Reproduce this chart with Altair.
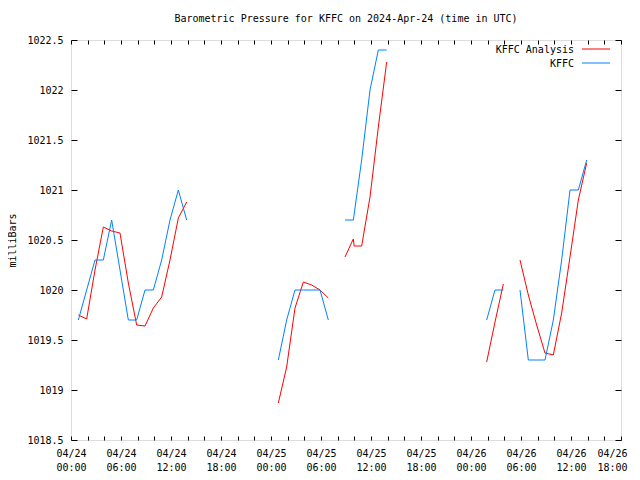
import altair as alt
import pandas as pd

# ---- data (hours after 2024-04-24 00:00 UTC) ----
series_names = ["KFFC Analysis", "KFFC"]
series_colors = ["#ff0000", "#0080ff"]

kffc_hours = [0.88, 1.88, 2.88, 3.88, 4.88, 5.88, 6.88, 7.88, 8.88, 9.88, 10.88, 11.88, 12.88, 13.88,
              24.88, 25.88, 26.88, 27.88, 28.88, 29.88, 30.88,
              32.88, 33.88, 34.88, 35.88, 36.88, 37.88,
              49.88, 50.88, 51.88,
              53.88, 54.88, 55.88, 56.88, 57.88, 58.88, 59.88, 60.88, 61.88]
kffc_mb = [1019.7, 1020.0, 1020.3, 1020.3, 1020.7, 1020.2, 1019.7, 1019.7, 1020.0, 1020.0, 1020.3, 1020.7, 1021.0, 1020.7,
           1019.3, 1019.7, 1020.0, 1020.0, 1020.0, 1020.0, 1019.7,
           1020.7, 1020.7, 1021.3, 1022.0, 1022.4, 1022.4,
           1019.7, 1020.0, 1020.0,
           1020.0, 1019.3, 1019.3, 1019.3, 1019.7, 1020.3, 1021.0, 1021.0, 1021.3]

analysis_hours = [0.88, 1.88, 2.88, 3.88, 4.88, 5.88, 6.88, 7.88, 8.88, 9.88, 10.88, 11.88, 12.88, 13.88,
                  24.88, 25.88, 26.88, 27.88, 28.88, 29.88, 30.88,
                  32.88, 33.88, 33.98, 34.88, 35.88, 36.88, 37.88,
                  49.88, 50.88, 51.88,
                  53.88, 54.88, 55.88, 56.88, 57.88, 58.88, 59.88, 60.88, 61.88]
analysis_mb = [1019.75, 1019.71, 1020.2, 1020.63, 1020.59, 1020.57, 1020.07, 1019.65, 1019.64, 1019.82, 1019.93, 1020.3, 1020.72, 1020.88,
               1018.87, 1019.23, 1019.82, 1020.08, 1020.05, 1020.0, 1019.92,
               1020.33, 1020.51, 1020.44, 1020.44, 1020.93, 1021.63, 1022.28,
               1019.28, 1019.68, 1020.06,
               1020.3, 1019.95, 1019.65, 1019.37, 1019.35, 1019.77, 1020.33, 1020.9, 1021.27]

y_ticks = [1018.5, 1019.0, 1019.5, 1020.0, 1020.5, 1021.0, 1021.5, 1022.0, 1022.5]
x_tick_step_hours = 2
x_span_hours = 66
title_text = "Barometric Pressure for KFFC on 2024-Apr-24 (time in UTC)"
y_title = "milliBars"

FONT = "DejaVu Sans Mono"
start = pd.Timestamp("2024-04-24T00:00:00Z")


def frame(hours, values, name):
    t = [start + pd.to_timedelta(h, unit="h") for h in hours]
    seg, s = [], 0
    for i, h in enumerate(hours):
        if i > 0 and h - hours[i - 1] > 1.5:
            s += 1
        seg.append(s)
    return pd.DataFrame({
        "time": [x.strftime("%Y-%m-%dT%H:%M:%SZ") for x in t],
        "mb": values,
        "seg": seg,
        "series": name,
    })


df_an = frame(analysis_hours, analysis_mb, series_names[0])
df_ob = frame(kffc_hours, kffc_mb, series_names[1])

x_vals = [int((start + pd.Timedelta(hours=h)).timestamp() * 1000)
          for h in range(0, x_span_hours + 1, x_tick_step_hours)]

x_scale = alt.Scale(type="utc",
                    domain=[alt.DateTime(year=2024, month=4, date=24, hours=0, utc=True),
                            alt.DateTime(year=2024, month=4, date=26, hours=18, utc=True)])
y_scale = alt.Scale(domain=[y_ticks[0], y_ticks[-1]], nice=False, zero=False)

label_expr = ("utchours(datum.value) % 6 == 0 ? [utcFormat(datum.value, '%m/%d'), "
              "utcFormat(datum.value, '%H:%M')] : ''")

x_bottom = alt.Axis(orient="bottom", values=x_vals, labelExpr=label_expr, tickSize=4, offset=-4,
                    domain=False, grid=False, labelFont=FONT, labelFontSize=10, labelPadding=8,
                    labelLineHeight=14, labelAngle=0, labelOverlap=False, labelFlush=False,
                    labelBound=False, labelColor="black", tickColor="black", title=None,
                    labelOffset={"condition": {"test": f"+datum.value >= {x_vals[-1] - 1000}", "value": -9},
                                 "value": 0})
x_top = alt.Axis(orient="top", values=x_vals, labels=False, tickSize=4, offset=-4, domain=False,
                 grid=False, tickColor="black", title=None)
y_left = alt.Axis(orient="left", values=y_ticks, labelExpr="datum.value + ''", tickSize=6, offset=-6,
                  domain=False, grid=False, labelFont=FONT, labelFontSize=10, labelPadding=8,
                  labelColor="black", tickColor="black", title=y_title, titleFont=FONT,
                  titleFontSize=10, titleFontWeight="normal", titleColor="black", titlePadding=9)
y_right = alt.Axis(orient="right", values=y_ticks, labels=False, tickSize=6, offset=-6, domain=False,
                   grid=False, tickColor="black", title=None)

red = alt.Chart(df_an).mark_line(color=series_colors[0], strokeWidth=1).encode(
    x=alt.X("time:T", scale=x_scale, axis=x_bottom),
    y=alt.Y("mb:Q", scale=y_scale, axis=y_left),
    detail="seg:N",
)
blue = alt.Chart(df_ob).mark_line(color=series_colors[1], strokeWidth=1).encode(
    x=alt.X("time:T", scale=x_scale, axis=x_top),
    y=alt.Y("mb:Q", scale=y_scale, axis=y_right),
    detail="seg:N",
)

leg_layers = []
for i, (name, col) in enumerate(zip(series_names, series_colors)):
    yy = 10 + 14 * i
    leg_layers.append(
        alt.Chart(pd.DataFrame({"label": [name]})).mark_text(
            font=FONT, fontSize=10, align="right", baseline="middle", color="black"
        ).encode(text="label:N", x=alt.value(503), y=alt.value(yy))
    )
    leg_layers.append(
        alt.Chart(pd.DataFrame({"label": [name]})).mark_rule(color=col, strokeWidth=1).encode(
            x=alt.value(511), x2=alt.value(539), y=alt.value(yy - 1)
        )
    )

chart = alt.layer(red, blue, *leg_layers).resolve_axis(
    x="independent", y="independent"
).properties(
    width=550, height=400,
    title=alt.TitleParams(title_text, font=FONT, fontSize=10, fontWeight="normal",
                          anchor="middle", offset=11, color="black"),
    padding={"left": 63, "top": 32, "right": 11, "bottom": 32},
    autosize=alt.AutoSizeParams(type="none"),
).configure_view(stroke="black", strokeWidth=1).configure(background="white")

chart.save("out.html", embed_options={"renderer": "svg", "actions": False})
